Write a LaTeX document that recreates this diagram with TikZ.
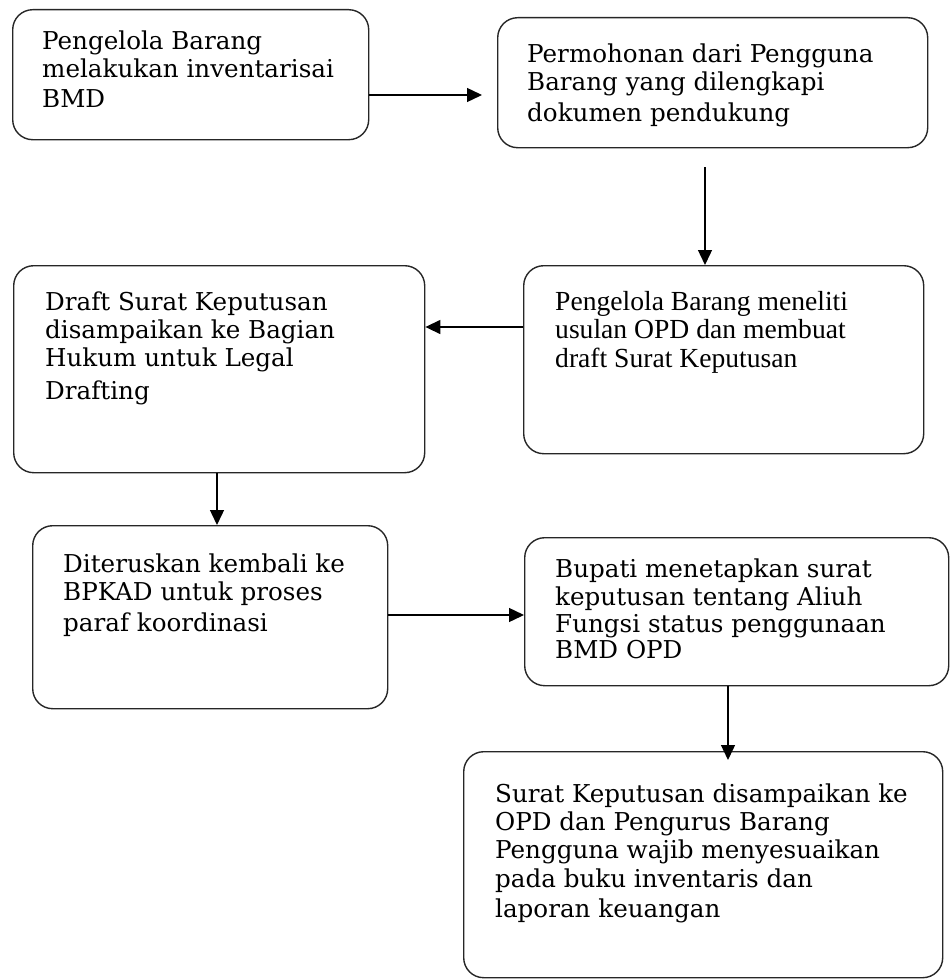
\documentclass[tikz,border=0pt]{standalone}
\usepackage{fontspec}
\setmainfont{DejaVu Serif}
\newfontfamily\timesfont{Liberation Serif}
\usetikzlibrary{arrows.meta}
\begin{document}
\begin{tikzpicture}[x=1pt,y=-1pt,
  box/.style={draw=black!85,line width=1.4pt,rounded corners=20pt,inner sep=0pt,anchor=north west},
  txt/.style={anchor=base west,inner sep=0pt,font=\fontsize{24.6}{28}\selectfont},
  ttxt/.style={anchor=base west,inner sep=0pt,font=\timesfont\fontsize{27.6}{28.5}\selectfont},
  arr/.style={line width=1.4pt,-{Triangle[length=15pt,width=14pt]}}]
\useasboundingbox (0,0) rectangle (950,979);
% boxes
\node[box,minimum width=356pt,minimum height=130pt] (b1) at (12,9) {};
\node[box,minimum width=430pt,minimum height=130pt] (b2) at (497,17) {};
\node[box,minimum width=400pt,minimum height=188pt] (b3) at (523,265) {};
\node[box,minimum width=411pt,minimum height=207pt] (b4) at (13,265) {};
\node[box,minimum width=355pt,minimum height=183pt] (b5) at (32,525) {};
\node[box,minimum width=424pt,minimum height=148pt] (b6) at (524,537) {};
\node[box,minimum width=479pt,minimum height=226pt] (b7) at (463,751) {};
% texts
\node[txt] (t1) at (42,50) {\parbox[t]{320pt}{Pengelola Barang\\melakukan inventarisai\\[2pt]BMD}};
\node[txt] (t2) at (527,63) {\parbox[t]{390pt}{Permohonan dari Pengguna\\Barang yang dilengkapi\\[3pt]dokumen pendukung}};
\node[ttxt] (t3) at (555,310) {\parbox[t]{360pt}{Pengelola Barang meneliti\\usulan OPD dan membuat\\draft Surat Keputusan}};
\node[txt] (t4) at (45,310) {\parbox[t]{370pt}{Draft Surat Keputusan\\disampaikan ke Bagian\\Hukum untuk Legal\\[5pt]Drafting}};
\node[txt] (t5) at (63,572) {\parbox[t]{320pt}{Diteruskan kembali ke\\BPKAD untuk proses\\[3pt]paraf koordinasi}};
\node[txt] (t6) at (555,577) {\parbox[t]{390pt}{Bupati menetapkan surat\\keputusan tentang Aliuh\\[-1pt]Fungsi status penggunaan\\[-2pt]BMD OPD}};
\node[txt] (t7) at (495,802) {\parbox[t]{440pt}{Surat Keputusan disampaikan ke\\OPD dan Pengurus Barang\\Pengguna wajib menyesuaikan\\[1pt]pada buku inventaris dan\\[2pt]laporan keuangan}};
% connector helper coordinates
\coordinate (a1) at (482,95);
\coordinate (a2) at (705,167);
\coordinate (a3) at (700,327);
\coordinate (a4) at (217,500);
\coordinate (a5) at (450,615);
\coordinate (a6) at (728,760);
% connectors
\draw[arr] (b1.east |- a1) -- (a1);
\draw[arr] (a2) -- (a2 |- b3.north);
\draw[arr] (b3.west |- a3) -- (b4.east |- a3);
\draw[arr] (b4.south -| a4) -- (b5.north -| a4);
\draw[arr] (b5.east |- a5) -- (b6.west |- a5);
\draw[arr] (b6.south -| a6) -- (a6);
\end{tikzpicture}
\end{document}
